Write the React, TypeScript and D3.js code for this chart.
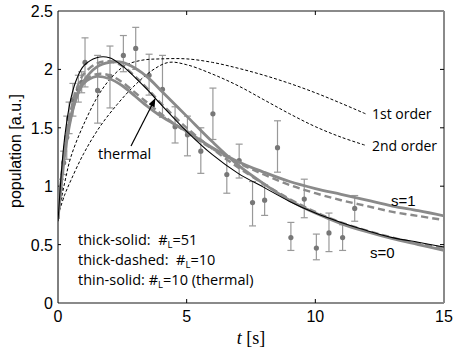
import React from "react";
import * as d3 from "d3";

// ---- data ----
const pointT = [0.1, 0.22, 0.34, 0.43, 0.58, 0.79, 0.92, 1.05, 1.54, 2.02, 2.54, 3.02, 3.54, 4.06, 4.55, 5.03, 5.55, 6.02, 6.56, 7.04, 7.56, 8.03, 8.53, 9.05, 9.57, 10.04, 10.53, 11.06, 11.53];
const pointV = [0.98, 1.2, 1.42, 1.58, 1.74, 1.83, 1.89, 2.06, 1.82, 1.94, 2.12, 2.18, 1.95, 1.83, 1.51, 1.44, 1.3, 1.62, 1.1, 1.22, 0.86, 0.88, 1.33, 0.56, 0.89, 0.47, 0.6, 0.56, 0.81];
const pointLo = [0.9, 1.1, 1.23, 1.45, 1.6, 1.72, 1.8, 1.85, 1.54, 1.67, 1.98, 2.0, 1.78, 1.59, 1.37, 1.26, 1.11, 1.4, 0.94, 1.07, 0.66, 0.75, 1.12, 0.45, 0.73, 0.37, 0.44, 0.45, 0.7];
const pointHi = [1.06, 1.3, 1.6, 1.72, 1.88, 1.95, 1.98, 2.27, 2.12, 2.2, 2.29, 2.36, 2.13, 2.12, 1.68, 1.6, 1.5, 1.84, 1.26, 1.36, 1.04, 1.01, 1.56, 0.69, 1.06, 0.59, 0.77, 0.67, 0.92];

const modelT = [0, 0.25, 0.5, 0.75, 1, 1.5, 2, 2.5, 3, 3.5, 4, 5, 6, 7, 8, 9, 10, 11, 12, 13, 14, 15];
const s0ThickSolid = [0.72, 1.25, 1.58, 1.78, 1.9, 2.02, 2.06, 2.06, 2.01, 1.93, 1.82, 1.6, 1.38, 1.18, 1.02, 0.88, 0.77, 0.68, 0.61, 0.55, 0.5, 0.45];
const s0ThickDashed = [0.72, 1.3, 1.65, 1.85, 1.96, 2.05, 2.07, 2.03, 1.94, 1.83, 1.71, 1.5, 1.32, 1.16, 1.02, 0.89, 0.78, 0.69, 0.62, 0.56, 0.51, 0.47];
const s0Thermal = [0.7, 1.4, 1.75, 1.93, 2.03, 2.1, 2.1, 2.03, 1.93, 1.82, 1.7, 1.47, 1.27, 1.11, 0.99, 0.87, 0.77, 0.69, 0.62, 0.56, 0.52, 0.48];
const s1ThickSolid = [0.72, 1.3, 1.6, 1.78, 1.88, 1.94, 1.92, 1.86, 1.77, 1.68, 1.6, 1.47, 1.33, 1.21, 1.12, 1.04, 0.98, 0.93, 0.88, 0.83, 0.79, 0.745];
const s1ThickDashed = [0.72, 1.32, 1.63, 1.8, 1.9, 1.96, 1.95, 1.89, 1.8, 1.71, 1.62, 1.46, 1.32, 1.2, 1.1, 1.01, 0.94, 0.88, 0.83, 0.78, 0.745, 0.71];

const order1T = [0, 0.25, 0.5, 1, 1.63, 2.2, 2.67, 3.3, 4, 5, 6, 7, 8, 9, 10, 11, 11.95];
const order1V = [0.75, 1.02, 1.25, 1.53, 1.8, 1.96, 2.04, 2.08, 2.09, 2.09, 2.06, 2.01, 1.95, 1.88, 1.8, 1.71, 1.62];
const order2T = [0, 0.25, 0.5, 1, 1.63, 2.3, 2.92, 3.65, 4.3, 5, 6, 7, 8, 9, 10, 11, 11.95];
const order2V = [0.75, 0.92, 1.05, 1.28, 1.51, 1.7, 1.85, 1.99, 2.06, 2.04, 1.96, 1.86, 1.74, 1.62, 1.51, 1.42, 1.35];

const xTicks = [0, 5, 10, 15];
const yTicks = [0, 0.5, 1, 1.5, 2, 2.5];

export default function App() {
  const W = 463, H = 348;
  const x = d3.scaleLinear().domain([0, 15]).range([58, 444]);
  const y = d3.scaleLinear().domain([0, 2.5]).range([303, 11]);
  const line = d3.line<[number, number]>().x(d => x(d[0])).y(d => y(d[1])).curve(d3.curveCatmullRom.alpha(0.5));
  const mk = (ts: number[], vs: number[]) => line(ts.map((t, i) => [t, vs[i]] as [number, number])) || "";

  const gray = "#8a8a8a";
  const txtFont = "'Open Sans', Lato, sans-serif";
  const axFont = "'Liberation Sans', Arial, sans-serif";

  return (
    <svg width={W} height={H} style={{ position: "absolute", left: 0, top: 0, background: "#fff" }}>
      <defs>
        <marker id="ah" viewBox="0 0 10 10" refX="9" refY="5" markerWidth="7" markerHeight="7" orient="auto">
          <path d="M0,1 L10,5 L0,9 z" fill="#000" />
        </marker>
        <clipPath id="pc"><rect x={58} y={11} width={386} height={292} /></clipPath>
      </defs>

      {/* frame */}
      <line x1={58} x2={444} y1={11} y2={11} stroke={gray} strokeWidth={2} />
      <line x1={58} x2={444} y1={303} y2={303} stroke={gray} strokeWidth={2} />
      <line x1={444} x2={444} y1={11} y2={303} stroke={gray} strokeWidth={2} />
      <line x1={58} x2={58} y1={11} y2={303} stroke="#000" strokeWidth={1} />

      {/* ticks */}
      {xTicks.slice(1, 3).map(t => (
        <g key={"xt" + t}>
          <line x1={x(t)} x2={x(t)} y1={303} y2={299} stroke="#000" />
          <line x1={x(t)} x2={x(t)} y1={11} y2={15} stroke="#000" />
        </g>
      ))}
      {yTicks.slice(1, 5).map(v => (
        <g key={"yt" + v}>
          <line x1={58} x2={61} y1={y(v)} y2={y(v)} stroke="#000" />
          <line x1={444} x2={440} y1={y(v)} y2={y(v)} stroke="#000" />
        </g>
      ))}

      {/* tick labels */}
      {xTicks.map(t => (
        <text key={"xl" + t} x={x(t)} y={322} textAnchor="middle" fontFamily={axFont} fontSize={16}>{t}</text>
      ))}
      {yTicks.map(v => (
        <text key={"yl" + v} x={53} y={y(v) + 6} textAnchor="end" fontFamily={axFont} fontSize={16}>{v}</text>
      ))}

      {/* axis labels */}
      <text transform={`translate(21,151) rotate(-90)`} textAnchor="middle" fontFamily={axFont} fontSize={16}>population [a.u.]</text>
      <text x={251} y={344} textAnchor="middle" fontFamily="'Liberation Serif', 'DejaVu Serif', serif" fontSize={18}>
        <tspan fontStyle="italic">t</tspan> [s]
      </text>

      <g clipPath="url(#pc)">
        {/* error bars & points */}
        {pointT.map((t, i) => (
          <g key={"p" + i} stroke="#999" strokeWidth={1.2}>
            <line x1={x(t)} x2={x(t)} y1={y(pointLo[i])} y2={y(pointHi[i])} />
            <line x1={x(t) - 3.5} x2={x(t) + 3.5} y1={y(pointLo[i])} y2={y(pointLo[i])} />
            <line x1={x(t) - 3.5} x2={x(t) + 3.5} y1={y(pointHi[i])} y2={y(pointHi[i])} />
          </g>
        ))}
        {pointT.map((t, i) => (
          <circle key={"c" + i} cx={x(t)} cy={y(pointV[i])} r={2.6} fill="#777" />
        ))}

        {/* order curves */}
        <path d={mk(order1T, order1V)} fill="none" stroke="#000" strokeWidth={1} strokeDasharray="3,2" />
        <path d={mk(order2T, order2V)} fill="none" stroke="#000" strokeWidth={1} strokeDasharray="3,2" />

        {/* model curves */}
        <path d={mk(modelT, s1ThickSolid)} fill="none" stroke={gray} strokeWidth={2.8} />
        <path d={mk(modelT, s1ThickDashed)} fill="none" stroke={gray} strokeWidth={2.4} strokeDasharray="7,4" />
        <path d={mk(modelT, s0ThickSolid)} fill="none" stroke={gray} strokeWidth={2.8} />
        <path d={mk(modelT, s0ThickDashed)} fill="none" stroke={gray} strokeWidth={2.4} strokeDasharray="7,4" />
        <path d={mk(modelT, s0Thermal)} fill="none" stroke="#000" strokeWidth={1.1} />
      </g>

      {/* annotations */}
      <line x1={131} x2={155} y1={146} y2={99} stroke="#000" strokeWidth={1.2} markerEnd="url(#ah)" />
      <text x={98} y={159} fontFamily={txtFont} fontSize={14.5}>thermal</text>
      <text x={372} y={119} fontFamily={txtFont} fontSize={14}>1st order</text>
      <text x={372} y={151} fontFamily={txtFont} fontSize={14}>2nd order</text>
      <text x={391} y={206} fontFamily={axFont} fontSize={15}>s=1</text>
      <text x={370} y={258} fontFamily={axFont} fontSize={15}>s=0</text>

      <text x={78} y={245} fontFamily={txtFont} fontSize={14.5}>
        thick-solid:{"\u00a0\u00a0"}#<tspan fontSize={9.5} dy={3}>L</tspan><tspan dy={-3}>=51</tspan>
      </text>
      <text x={78} y={265} fontFamily={txtFont} fontSize={14.5}>
        thick-dashed:{"\u00a0\u00a0"}#<tspan fontSize={9.5} dy={3}>L</tspan><tspan dy={-3}>=10</tspan>
      </text>
      <text x={78} y={285} fontFamily={txtFont} fontSize={14.5}>
        thin-solid:{"\u00a0"}#<tspan fontSize={9.5} dy={3}>L</tspan><tspan dy={-3}>=10 (thermal)</tspan>
      </text>
    </svg>
  );
}
